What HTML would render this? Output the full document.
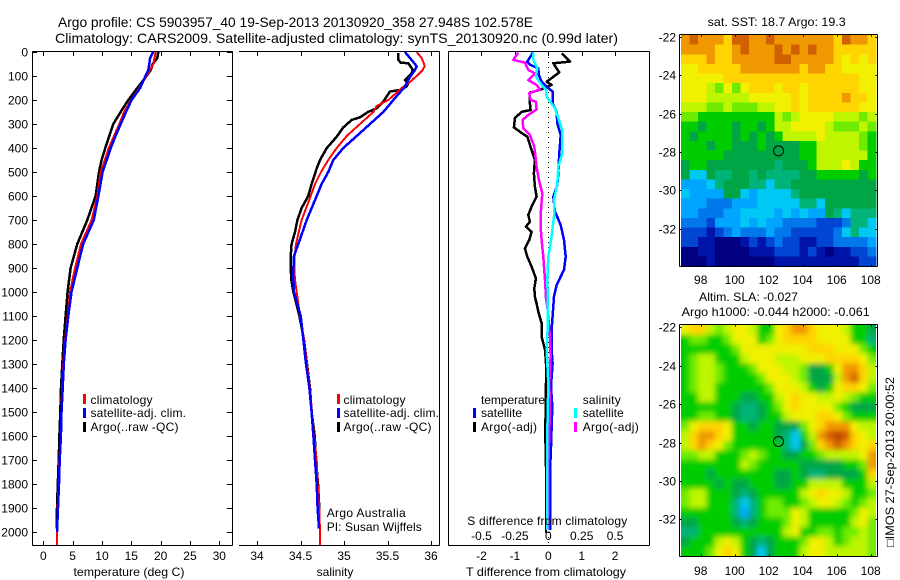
<!DOCTYPE html>
<html lang="en">
<head>
<meta charset="utf-8">
<title>Argo profile chart</title>
<style>
html,body{margin:0;padding:0;background:#fff;width:900px;height:580px;overflow:hidden}
svg{display:block;position:absolute;left:0;top:0}
text{font-family:"Liberation Sans",Helvetica,Arial,sans-serif;font-size:12px;fill:#000}
.title{font-size:14px}
</style>
</head>
<body>
<svg id="figure" xmlns="http://www.w3.org/2000/svg" width="900" height="580" viewBox="0 0 900 580">
  <defs>
    <clipPath id="slaClip"><rect x="681" y="325" width="195" height="231"/></clipPath>
    <filter id="slaBlur" filterUnits="userSpaceOnUse" x="640" y="280" width="260" height="300"><feGaussianBlur stdDeviation="2.6"/></filter>
  </defs>
  <text class="title" x="58" y="27" textLength="475" lengthAdjust="spacingAndGlyphs">Argo profile: CS 5903957_40 19-Sep-2013 20130920_358 27.948S 102.578E</text>
  <text class="title" x="55" y="43" textLength="563" lengthAdjust="spacingAndGlyphs">Climatology: CARS2009. Satellite-adjusted climatology: synTS_20130920.nc (0.99d later)</text>
  <text x="129" y="576" text-anchor="middle" textLength="111" lengthAdjust="spacingAndGlyphs">temperature (deg C)</text>
  <text x="335" y="576" text-anchor="middle">salinity</text>
  <text x="546" y="576" text-anchor="middle" textLength="160" lengthAdjust="spacingAndGlyphs">T difference from climatology</text>
  <text x="326.7" y="517" textLength="79" lengthAdjust="spacing">Argo Australia</text>
  <text x="326.7" y="531" textLength="95" lengthAdjust="spacing">PI: Susan Wijffels</text>
  <text x="707.7" y="26" textLength="138" lengthAdjust="spacingAndGlyphs">sat. SST: 18.7  Argo: 19.3</text>
  <text x="699" y="301" textLength="99" lengthAdjust="spacingAndGlyphs">Altim. SLA: -0.027</text>
  <text x="681.7" y="316" textLength="188" lengthAdjust="spacingAndGlyphs">Argo h1000: -0.044  h2000: -0.061</text>
  <text transform="translate(894,547) rotate(-90)" textLength="170" lengthAdjust="spacingAndGlyphs">□IMOS 27-Sep-2013 20:00:52</text>
</svg>
<script>
// ---------- axis ticks ----------
const depthTicks = [0,100,200,300,400,500,600,700,800,900,1000,1100,1200,1300,1400,1500,1600,1700,1800,1900,2000];
const temperatureTicks = [0,5,10,15,20,25,30];
const salinityTicks = [34,34.5,35,35.5,36];
const tempDiffTicks = [-2,-1,0,1,2];
const salDiffTicks = [-0.5,-0.25,0,0.25,0.5];
const lonTicks = [98,100,102,104,106,108];
const latTicks = [-22,-24,-26,-28,-30,-32];

// ---------- temperature profiles (depth m / deg C) ----------
const climTempDepth = [0,50,100,150,200,250,300,350,400,450,500,600,700,800,900,1000,1100,1200,1300,1400,1500,1600,1700,1800,1900,2000,2055];
const climTemp = [19.15,18.75,17.6,16.35,14.95,13.75,12.95,12.05,11.15,10.5,9.77,9.2,8.24,6.42,5.4,4.55,4.15,3.7,3.4,3.18,3.07,2.95,2.73,2.6,2.44,2.33,2.33];
const satTempDepth = [0,25,50,75,100,150,200,250,300,350,400,450,500,600,700,800,900,1000,1100,1200,1300,1400,1500,1600,1700,1800,1900,2000];
const satTemp = [18.75,18.2,18.07,17.9,17.4,16.5,15.05,14.1,13.2,12.3,11.5,10.8,10.1,9.4,8.6,6.8,5.8,4.8,4.26,3.8,3.5,3.3,3.1,3.0,2.8,2.67,2.5,2.33];
const argoTempDepth = [0,25,50,75,100,150,200,250,300,350,400,450,500,600,700,800,900,1000,1100,1200,1300,1400,1500,1600,1700,1800,1900,1985];
const argoTemp = [19.6,19.43,18.64,18.3,17.6,16.02,14.49,13.18,11.93,11.25,10.57,9.94,9.49,8.92,7.5,5.8,4.66,4.15,3.8,3.47,3.24,3.01,2.9,2.75,2.62,2.47,2.33,2.3];

// ---------- salinity profiles ----------
const climSalDepth = [0,25,50,60,75,100,125,150,175,200,225,250,300,350,400,450,500,550,600,700,800,850,900,950,1000,1100,1200,1300,1400,1500,1600,1700,1800,1900,2000,2055];
const climSal = [35.835,35.893,35.92,35.927,35.904,35.835,35.759,35.663,35.586,35.51,35.375,35.337,35.184,35.031,34.916,34.82,34.736,34.667,34.617,34.513,34.448,34.433,34.429,34.437,34.456,34.494,34.54,34.575,34.609,34.632,34.655,34.686,34.697,34.716,34.724,34.724];
const satSalDepth = [0,25,50,60,75,100,125,150,175,200,225,250,300,350,400,450,500,550,600,700,800,850,900,950,1000,1100,1200,1300,1400,1500,1600,1700,1800,1900,1985];
const satSal = [35.701,35.759,35.816,35.835,35.816,35.766,35.728,35.69,35.625,35.567,35.51,35.452,35.299,35.146,34.992,34.877,34.82,34.743,34.686,34.571,34.475,34.425,34.418,34.418,34.425,34.502,34.533,34.563,34.602,34.628,34.648,34.667,34.686,34.697,34.713];
const argoSalDepth = [5,33,44,47,72,89,117,130,144,158,165,186,207,235,249,272,283,314,353,401,450,485,550,600,650,700,750,800,850,900,950,1000,1100,1200,1300,1400,1500,1600,1700,1800,1900,1985];
const argoSal = [35.625,35.625,35.651,35.739,35.789,35.778,35.701,35.739,35.72,35.644,35.529,35.49,35.452,35.375,35.28,35.184,35.088,34.992,34.916,34.801,34.724,34.686,34.628,34.59,34.513,34.464,34.437,34.398,34.387,34.387,34.395,34.418,34.487,34.54,34.575,34.609,34.628,34.663,34.678,34.701,34.716,34.716];

// ---------- difference profiles ----------
const satTempDiffDepth = [0,40,54,68,96,124,144,165,214,249,297,346,422,506,554,603,665,721,783,853,908,971,1019,1061,1158,1241,1297,1394,1477,1644,1755,1991];
const satTempDiff = [-0.45,-0.63,-0.53,-0.3,-0.28,-0.2,-0.05,0.13,0.13,0.25,0.27,0.37,0.33,0.3,0.27,0.15,0.2,0.37,0.47,0.52,0.47,0.25,0.17,0.15,0.1,0.1,0.13,0.08,0.12,0.08,0.05,0.05];
const argoTempDiffDepth = [6,40,47,85,124,137,158,169,214,242,249,276,314,332,353,408,450,506,561,603,644,679,707,728,749,783,818,853,894,943,985,1019,1061,1082,1130,1186,1241,1297,1380,1589,1727,2005];
const argoTempDiff = [0.4,0.65,0.15,0.33,-0.05,0.1,-0.25,-0.55,-0.55,-0.53,-0.8,-1.0,-1.03,-0.85,-0.63,-0.5,-0.4,-0.43,-0.4,-0.35,-0.5,-0.6,-0.55,-0.67,-0.5,-0.57,-0.7,-0.63,-0.5,-0.37,-0.42,-0.4,-0.33,-0.3,-0.2,-0.2,-0.1,-0.07,-0.07,-0.09,-0.07,-0.07];
const satSalDiffDepth = [3,33,68,103,137,158,186,235,276,325,422,478,547,617,686,769,853,950,1061,1158,1241,1380,1589,1755,1991];
const satSalDiff = [-0.1125,-0.1125,-0.0825,-0.0925,-0.05,-0.0175,-0.0125,0.05,0.075,0.105,0.105,0.075,0.0675,0.0425,0.0425,0.025,0,-0.0075,-0.0025,-0.005,-0.0125,0,-0.0075,-0.0075,-0.0075];
const argoSalDiffDepth = [3,33,44,75,89,117,137,156,172,200,207,239,262,283,318,346,394,478,533,589,658,728,783,853,950,1026,1061,1186,1269,1380,1491,1727,1991];
const argoSalDiff = [-0.225,-0.2625,-0.175,-0.15,-0.1,-0.15,-0.0875,-0.0625,-0.1425,-0.1325,-0.0925,-0.0875,-0.15,-0.1925,-0.1875,-0.1375,-0.105,-0.0875,-0.07,-0.045,-0.055,-0.0575,-0.05,-0.0375,-0.025,-0.0175,-0.0075,0.0125,0.0175,0.0075,0.0125,0,0];

// ---------- map colour scale (dark blue to dark orange) ----------
const mapPalette = ['#000080','#0014aa','#0046d2','#0078eb','#00a5ff','#00c8f5','#00b478','#00a546','#00cd00','#6eeb00','#beF500','#f0f000','#ffd400','#f09800','#d06000','#c04000'];

// ---------- satellite SST map, colour level per grid cell, north to south ----------
const sstGrid = [
[13,14,13,13,13,12,14,14,13,13,14,13,13,13,13,13,13,13,12,14,13,13,12],
[13,13,13,13,12,12,13,14,13,13,13,14,13,14,13,14,13,13,12,12,12,12,12],
[12,12,12,13,12,12,13,13,13,13,13,14,14,13,13,13,13,13,12,11,12,11,12],
[11,11,12,12,12,12,12,13,13,13,13,13,13,13,12,13,13,12,12,11,11,11,11],
[11,11,11,11,11,12,12,12,12,12,12,12,12,12,12,12,12,12,12,12,12,11,11],
[11,11,11,10,9,11,9,11,12,12,12,11,12,12,11,12,12,12,12,12,12,11,11],
[11,11,11,10,10,10,10,10,11,11,11,11,11,12,11,12,12,12,12,13,12,12,11],
[10,10,10,9,9,10,9,9,9,10,10,11,11,12,11,12,12,12,12,12,12,11,11],
[9,9,8,8,8,8,8,8,8,8,8,10,9,10,11,11,11,11,10,10,10,9,10],
[8,8,7,8,8,8,7,8,8,7,8,10,10,11,11,11,11,10,9,9,9,10,9],
[8,7,8,8,8,8,7,8,7,8,7,8,10,10,10,10,11,10,10,10,10,9,8],
[8,8,8,7,8,8,7,7,7,8,7,7,7,7,8,8,10,10,10,10,10,9,8],
[8,8,8,8,8,7,7,7,7,7,7,7,7,7,8,8,10,10,10,10,10,10,8],
[7,8,8,7,7,7,7,7,7,7,7,6,7,7,7,8,10,10,10,11,10,8,8],
[7,5,5,7,6,6,7,7,6,7,6,6,6,6,7,7,8,8,8,8,8,7,8],
[4,4,4,5,6,7,7,7,6,6,5,6,6,7,7,7,7,7,7,7,7,7,7],
[5,4,4,4,4,7,7,5,4,5,5,5,5,6,7,7,7,7,7,7,7,7,7],
[4,4,4,3,3,3,4,4,4,5,5,5,5,5,6,6,5,7,7,7,7,7,7],
[4,4,3,3,3,4,4,5,5,5,5,4,5,4,5,4,4,7,6,5,6,6,6],
[3,3,3,2,4,4,4,5,4,5,4,4,3,3,3,3,2,2,2,3,6,6,5],
[2,2,2,1,2,3,4,3,3,3,4,3,3,2,2,2,2,2,3,5,6,5,5],
[2,2,1,1,0,0,0,1,2,1,2,3,2,2,1,1,2,2,3,3,3,3,4],
[0,0,1,1,0,0,0,0,1,1,1,2,2,2,1,2,1,0,1,1,2,2,3],
[0,0,0,1,0,0,0,0,0,0,0,1,1,1,1,1,1,1,1,1,1,2,2]
];

// ---------- altimeter SLA map, colour level per grid cell, north to south ----------
const slaGrid = [
[11,12,12,10,9,10,11,11,10,8,8,11,12,13,13,12,11,11,11,10,8,8,7],
[8,9,9,8,8,9,11,11,11,8,9,11,12,12,12,12,11,11,11,11,8,8,6],
[8,8,8,8,8,8,9,11,11,11,11,11,11,11,11,12,12,12,11,11,11,9,8],
[8,9,10,10,8,8,8,10,11,11,11,10,10,10,11,11,11,12,12,12,12,11,9],
[8,9,10,10,9,8,8,8,9,11,11,11,10,10,9,7,7,8,11,13,13,12,10],
[8,9,10,10,9,8,8,8,8,9,11,11,11,10,9,7,7,7,10,13,14,12,10],
[8,9,10,10,8,8,8,8,8,8,9,11,11,11,10,8,7,8,11,12,12,11,9],
[8,8,10,10,8,8,8,7,7,8,8,10,11,12,11,11,10,10,11,10,9,8,8],
[8,8,8,8,8,8,7,6,6,7,8,9,11,12,11,11,11,11,9,8,7,7,7],
[8,8,9,9,8,8,7,6,6,7,8,8,10,11,11,11,12,12,11,9,8,8,8],
[9,11,12,12,12,11,8,8,7,8,8,7,7,7,9,11,12,13,13,13,11,10,10],
[10,12,13,13,12,11,8,8,8,8,8,7,6,5,8,10,13,14,15,14,12,11,10],
[10,12,13,12,11,9,8,8,8,8,8,8,6,5,7,9,12,13,14,13,12,11,12],
[9,9,10,10,8,8,8,9,10,9,8,8,7,7,8,8,9,10,10,10,10,11,13],
[8,8,8,8,8,8,8,10,9,8,8,8,8,8,7,7,7,7,7,8,8,9,13],
[8,8,8,7,8,8,8,8,8,8,8,7,7,8,7,6,6,7,7,7,7,8,12],
[8,8,8,8,7,8,7,7,8,8,8,7,7,8,8,10,10,10,10,8,8,8,10],
[9,10,10,8,8,8,7,6,7,8,8,8,8,8,10,11,12,11,11,10,8,8,9],
[9,10,10,8,8,8,6,5,6,8,9,9,8,8,9,10,11,11,10,9,8,9,10],
[8,8,8,8,8,8,6,4,6,8,9,9,9,11,10,8,8,8,8,8,9,11,10],
[7,7,8,8,8,8,7,6,7,8,8,8,9,11,10,8,8,8,8,8,10,11,9],
[6,6,8,8,8,8,8,8,8,8,8,8,10,11,8,8,9,9,8,9,9,10,9],
[7,8,8,8,10,11,10,8,7,6,7,8,8,8,9,11,11,10,8,9,10,10,9],
[8,8,8,9,11,12,11,8,7,5,7,8,8,8,10,11,11,10,10,10,10,10,9]
];

// ---------- float position ----------
const floatLon = 102.578;
const floatLat = -27.948;

// ---------- axis functions ----------
const yDepth = d => 52 + 0.24 * d;
const xTemp = t => 43.3 + 5.867 * t;
const xSal = s => 257 + 87 * (s - 34);
const xTDiff = t => 548.3 + 33.4 * t;
const xSDiff = s => 548.3 + 133.6 * s;
const xLon = lon => 700.7 + 17 * (lon - 98);
const yLatTop = lat => 36.7 + 19.2 * (-22 - lat);
const yLatBottom = lat => 327.3 + 19.2 * (-22 - lat);

const NS = 'http://www.w3.org/2000/svg';
const svg = document.getElementById('figure');

function make(tag, parent, attrs) {
  const el = document.createElementNS(NS, tag);
  for (const k in attrs) el.setAttribute(k, attrs[k]);
  parent.appendChild(el);
  return el;
}
function segment(x1, y1, x2, y2, name) {
  const el = make('line', svg, {x1: x1, y1: y1, x2: x2, y2: y2, stroke: '#000', 'stroke-width': 1, 'shape-rendering': 'crispEdges'});
  
  
  return el;
}
function label(str, x, y, anchor, name, length) {
  const el = make('text', svg, {x: x, y: y, 'text-anchor': anchor});
  if (length) el.setAttribute('textLength', length);
  el.textContent = str;
  
  
  return el;
}
function profile(depths, values, xFn, color, width, name) {
  const pts = depths.map((d, i) => xFn(values[i]).toFixed(1) + ',' + yDepth(d).toFixed(1)).join(' ');
  const el = make('polyline', svg, {points: pts, fill: 'none', stroke: color, 'stroke-width': width, 'stroke-linejoin': 'round', 'shape-rendering': 'crispEdges'});
  
  
  return el;
}
function patch(x, y, color, name) {
  const el = make('rect', svg, {x: x, y: y, width: 3, height: 10, fill: color, 'shape-rendering': 'crispEdges'});
  
  
  return el;
}

// ---------- panel frames ----------
segment(32.5, 51.5, 232.5, 51.5, 'temperature-panel-top-axis');
segment(32.5, 545.5, 232.5, 545.5, 'temperature-panel-bottom-axis');
segment(32.5, 51.5, 32.5, 545.5, 'depth-axis');
segment(232.5, 51.5, 232.5, 545.5, 'temperature-panel-right-axis');
segment(239, 51.5, 439.5, 51.5, 'salinity-panel-top-axis');
segment(239, 545.5, 439.5, 545.5, 'salinity-panel-bottom-axis');
segment(439.5, 51.5, 439.5, 545.5, 'salinity-panel-right-axis');
segment(448.5, 51.5, 649.5, 51.5, 'difference-panel-top-axis');
segment(448.5, 545.5, 649.5, 545.5, 'difference-panel-bottom-axis');
segment(448.5, 51.5, 448.5, 545.5, 'difference-panel-left-axis');
segment(649.5, 51.5, 649.5, 545.5, 'difference-panel-right-axis');

// ---------- depth ticks ----------
depthTicks.forEach(d => {
  const y = Math.round(yDepth(d)) + 0.5;
  segment(32.5, y, 37, y, 'depth-tick-left');
  segment(227, y, 232.5, y, 'depth-tick-right');
  label(String(d), 28, y + 4, 'end', 'depth-tick-label');
});

// ---------- x ticks ----------
temperatureTicks.forEach(t => {
  const x = Math.round(xTemp(t)) + 0.5;
  segment(x, 51.5, x, 56, 'temperature-tick-top');
  segment(x, 541, x, 545.5, 'temperature-tick-bottom');
  label(String(t), xTemp(t), 560, 'middle', 'temperature-tick-label');
});
salinityTicks.forEach(s => {
  const x = Math.round(xSal(s)) + 0.5;
  segment(x, 51.5, x, 56, 'salinity-tick-top');
  segment(x, 541, x, 545.5, 'salinity-tick-bottom');
  label(String(s), xSal(s), 560, 'middle', 'salinity-tick-label');
});
tempDiffTicks.forEach(t => {
  const x = Math.round(xTDiff(t)) + 0.5;
  segment(x, 51.5, x, 56, 'temperature-difference-tick-top');
  label(String(t), xTDiff(t), 560, 'middle', 'temperature-difference-tick-label');
});

// ---------- temperature panel ----------
profile(argoTempDepth, argoTemp, xTemp, '#000', 2.5, 'temperature-argo-line');
profile(climTempDepth, climTemp, xTemp, '#ff0000', 2, 'temperature-climatology-line');
profile(satTempDepth, satTemp, xTemp, '#0000ff', 2.5, 'temperature-satellite-line');

// ---------- salinity panel ----------
profile(argoSalDepth, argoSal, xSal, '#000', 2.5, 'salinity-argo-line');
profile(climSalDepth, climSal, xSal, '#ff0000', 2, 'salinity-climatology-line');
profile(satSalDepth, satSal, xSal, '#0000ff', 2.5, 'salinity-satellite-line');

// ---------- difference panel ----------
const zeroLine = make('line', svg, {x1: xTDiff(0), y1: 52, x2: xTDiff(0), y2: 545, stroke: '#000', 'stroke-width': 1, 'stroke-dasharray': '1 4', 'shape-rendering': 'crispEdges'});


profile(argoTempDiffDepth, argoTempDiff, xTDiff, '#000', 2.5, 'temperature-difference-argo-line');
profile(satTempDiffDepth, satTempDiff, xTDiff, '#0000ff', 2.5, 'temperature-difference-satellite-line');
profile(argoSalDiffDepth, argoSalDiff, xSDiff, '#ff00ff', 2.5, 'salinity-difference-argo-line');
profile(satSalDiffDepth, satSalDiff, xSDiff, '#00ffff', 2.5, 'salinity-difference-satellite-line');

// labels that sit over the lines
salDiffTicks.forEach(s => {
  label(String(s), xSDiff(s), 540, 'middle', 'salinity-difference-tick-label');
});
label('S difference from climatology', 467.3, 525, 'start', 's-difference-axis-title', 160);

// ---------- legends ----------
patch(83, 394, '#ff0000', 'legend-climatology-swatch');
patch(83, 408, '#0000ff', 'legend-satellite-swatch');
patch(83, 422, '#000', 'legend-argo-swatch');
label('climatology', 90.5, 404, 'start', 'legend-climatology-label', 62);
label('satellite-adj. clim.', 90.5, 417, 'start', 'legend-satellite-label', 95.5);
label('Argo(..raw -QC)', 90.5, 431, 'start', 'legend-argo-label', 88);
patch(337, 394, '#ff0000', 'salinity-legend-climatology-swatch');
patch(337, 408, '#0000ff', 'salinity-legend-satellite-swatch');
patch(337, 422, '#000', 'salinity-legend-argo-swatch');
label('climatology', 343.5, 404, 'start', 'salinity-legend-climatology-label', 62);
label('satellite-adj. clim.', 343.5, 417, 'start', 'salinity-legend-satellite-label', 95.5);
label('Argo(..raw -QC)', 343.5, 431, 'start', 'salinity-legend-argo-label', 88);
label('temperature', 481, 404, 'start', 'difference-legend-temperature-heading', 64);
label('satellite', 481, 417, 'start', 'difference-legend-temperature-satellite-label', 41);
label('Argo(-adj)', 481, 431, 'start', 'difference-legend-temperature-argo-label', 56);
patch(473, 408, '#0000ff', 'difference-legend-temperature-satellite-swatch');
patch(473, 422, '#000', 'difference-legend-temperature-argo-swatch');
label('salinity', 582.7, 404, 'start', 'difference-legend-salinity-heading', 38);
label('satellite', 582.7, 417, 'start', 'difference-legend-salinity-satellite-label', 41);
label('Argo(-adj)', 582.7, 431, 'start', 'difference-legend-salinity-argo-label', 56);
patch(574, 408, '#00ffff', 'difference-legend-salinity-satellite-swatch');
patch(574, 422, '#ff00ff', 'difference-legend-salinity-argo-swatch');

// ---------- maps ----------
const mapLeft = 681, mapWidth = 195;

const sstCells = make('g', svg, {});


const sstTop = 35, sstHeight = 231;
sstGrid.forEach((row, j) => {
  row.forEach((v, i) => {
    const cw = mapWidth / row.length, ch = sstHeight / sstGrid.length;
    const cell = make('rect', sstCells, {x: mapLeft + i * cw, y: sstTop + j * ch, width: cw + 0.5, height: ch + 0.5, fill: mapPalette[v], 'shape-rendering': 'crispEdges'});
    
    
  });
});

const slaClip = make('g', svg, {'clip-path': 'url(#slaClip)'});


const slaCells = make('g', slaClip, {filter: 'url(#slaBlur)'});


const slaTop = 325, slaHeight = 231;
slaGrid.forEach((row, j) => {
  row.forEach((v, i) => {
    const cw = mapWidth / row.length, ch = slaHeight / slaGrid.length;
    const padL = i === 0 ? 12 : 0, padR = i === row.length - 1 ? 12 : 0;
    const padT = j === 0 ? 12 : 0, padB = j === slaGrid.length - 1 ? 12 : 0;
    const cell = make('rect', slaCells, {x: mapLeft + i * cw - padL, y: slaTop + j * ch - padT, width: cw + 0.5 + padL + padR, height: ch + 0.5 + padT + padB, fill: mapPalette[v]});
    
    
  });
});

function mapFrame(top, bottom, yLat, prefix, labelY) {
  const left = 679.5, right = 877.5;
  segment(left, top, right, top, prefix + '-frame-top');
  segment(left, bottom, right, bottom, prefix + '-frame-bottom');
  segment(left, top, left, bottom, prefix + '-frame-left');
  segment(right, top, right, bottom, prefix + '-frame-right');
  lonTicks.forEach(lon => {
    const x = Math.round(xLon(lon)) + 0.5;
    segment(x, top, x, top + 2, prefix + '-lon-tick-top');
    segment(x, bottom - 2, x, bottom, prefix + '-lon-tick-bottom');
    label(String(lon), xLon(lon), labelY, 'middle', prefix + '-lon-label');
  });
  latTicks.forEach(lat => {
    const y = Math.round(yLat(lat)) + 0.5;
    segment(left, y, left + 2, y, prefix + '-lat-tick-left');
    segment(right - 2, y, right, y, prefix + '-lat-tick-right');
    label(String(lat), 676, y + 4, 'end', prefix + '-lat-label');
  });
  const marker = make('circle', svg, {cx: xLon(floatLon), cy: yLat(floatLat), r: 5, fill: 'none', stroke: '#000', 'stroke-width': 1});
  
  
}
mapFrame(34.5, 266.5, yLatTop, 'sst-map', 284);
mapFrame(324.5, 556.5, yLatBottom, 'sla-map', 575);
</script>
</body>
</html>
